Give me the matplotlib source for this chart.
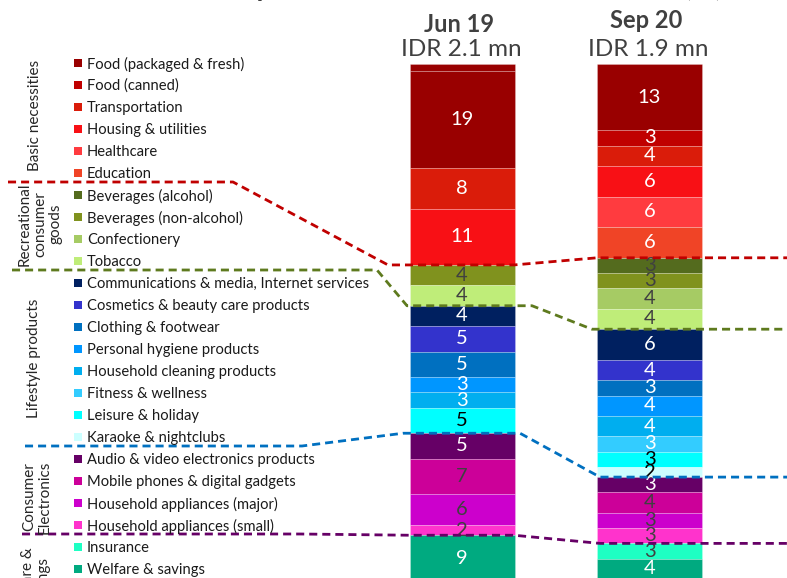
import matplotlib
matplotlib.use("Agg")
import matplotlib.pyplot as plt
from matplotlib.patches import Rectangle

# ---------------- data ----------------
categories = [
    "Food (packaged & fresh)", "Food (canned)", "Transportation", "Housing & utilities",
    "Healthcare", "Education",
    "Beverages (alcohol)", "Beverages (non-alcohol)", "Confectionery", "Tobacco",
    "Communications & media, Internet services", "Cosmetics & beauty care products",
    "Clothing & footwear", "Personal hygiene products", "Household cleaning products",
    "Fitness & wellness", "Leisure & holiday", "Karaoke & nightclubs",
    "Audio & video electronics products", "Mobile phones & digital gadgets",
    "Household appliances (major)", "Household appliances (small)",
    "Insurance", "Welfare & savings",
]
colors = [
    "#990000", "#C00000", "#DA1C0A", "#F81015", "#FF3B3F", "#F04426",
    "#546B1E", "#80921E", "#A6CB64", "#BFED79",
    "#002060", "#3333CC", "#0070C0", "#0096FF", "#00AEEF", "#33CCFF", "#00FFFF", "#CCFFFF",
    "#660066", "#CC0099", "#CC00CC", "#FF33CC",
    "#1EFFC3", "#00AA80",
]
label_colors = [
    "white", "white", "white", "white", "white", "white",
    "#404040", "#404040", "#404040", "#404040",
    "white", "white", "white", "white", "white", "white", "black", "black",
    "white", "#404040", "#404040", "#404040",
    "#404040", "white",
]
jun19 = [19, 0, 8, 11, 0, 0, 0, 4, 0, 4, 4, 5, 5, 3, 3, 0, 5, 0, 5, 7, 6, 2, 0, 9]
sep20 = [13, 3, 4, 6, 6, 6, 3, 3, 4, 4, 6, 4, 3, 4, 4, 3, 3, 2, 3, 4, 3, 3, 3, 4]
jun19_unlabelled_top = 1.4

periods = ["Jun 19", "Sep 20"]
totals = ["IDR 2.1 mn", "IDR 1.9 mn"]

group_names = ["Basic necessities", "Recreational\nconsumer\ngoods", "Lifestyle products",
               "Consumer\nElectronics", "Welfare &\nsavings"]
group_last_index = [5, 9, 17, 21]      # last category of each group (connectors after these)
connector_colors = ["#C00000", "#5E7A1E", "#0070C0", "#660066"]

title = "Monthly household consumer expenditure as share of total income (%)"

# ---------------- figure ----------------
W, H = 787, 578
fig = plt.figure(figsize=(W / 100, H / 100), dpi=100)
FONT = "Lato"
plt.rcParams["font.family"] = [FONT, "DejaVu Sans"]

# main axes: percentages (y from top), bars at x=0,1
ax = fig.add_axes([0, 0, 1, 1])
px_per_pct = 5.1
bar_top_px = 64
ax.set_ylim((H - bar_top_px) / px_per_pct, -bar_top_px / px_per_pct)
unit_x = 187.5
jun_center_px = 462
ax.set_xlim(-jun_center_px / unit_x, (W - jun_center_px) / unit_x)
ax.axis("off")

# overlay axes in pixel space for annotations
ov = fig.add_axes([0, 0, 1, 1])
ov.set_xlim(0, W)
ov.set_ylim(H, 0)
ov.axis("off")
ov.patch.set_alpha(0)


def to_px(x, y):
    p = ax.transData.transform((x, y))
    return ov.transData.inverted().transform(p)


bar_w = 0.56
boundaries = []
for bi, vals in enumerate([jun19, sep20]):
    start = 0.0
    if bi == 0:
        ax.bar(bi, jun19_unlabelled_top, bottom=0, width=bar_w, color=colors[0],
               edgecolor=(1, 1, 1, 0.25), linewidth=0.6)
        start = jun19_unlabelled_top
    cum = start
    ends = []
    for i, v in enumerate(vals):
        if v > 0:
            ax.bar(bi, v, bottom=cum, width=bar_w, color=colors[i],
                   edgecolor=(1, 1, 1, 0.25), linewidth=0.6)
            ax.text(bi, cum + v / 2, f"{v}", ha="center", va="center",
                    fontsize=14.5, color=label_colors[i], family=FONT)
        cum += v
        ends.append(cum)
    boundaries.append(ends)

# headers
for bi in range(2):
    cx, _ = to_px(bi, 0)
    ov.text(cx - 3, 24 if bi == 0 else 21, periods[bi], ha="center", va="center",
            fontsize=17, fontweight="bold", color="#404040", family=FONT)
    ov.text(cx - 1, 49, totals[bi], ha="center", va="center",
            fontsize=17.5, color="#404040", family=FONT)

# title (mostly cropped above the canvas)
ov.text(722, -4, title, ha="right", va="baseline", fontsize=20, fontweight="bold",
        color="#404040", family=FONT, clip_on=False)

# legend
row0, row_h = 63, 22
for i, name in enumerate(categories):
    y = row0 + row_h * i
    ov.add_patch(Rectangle((74, y - 4), 8, 8, color=colors[i], lw=0))
    ov.text(87, y + 1, name, ha="left", va="center", fontsize=10.6, color="#1a1a1a", family=FONT)

# group labels
group_pos = [(35, 115), (40, 224), (34, 358), (37, 497), (36, 582)]
for name, (gx, gy) in zip(group_names, group_pos):
    ov.text(gx, gy, name, rotation=90, ha="center", va="center", fontsize=11,
            color="#262626", family=FONT, linespacing=1.15, multialignment="center")

# connectors
left_start = [8, 12, 25, 22]
knee_x = [233, 377, 302, 300]
arrive_x = [388, 407, 403, 410]
extend_x = [514, 532, 520, 514]
sep_arrive_x = [597, 592, 600, 600]
for k, gi in enumerate(group_last_index):
    y_left = row0 + row_h * (gi + 0.5) - 2
    _, yj = to_px(0, boundaries[0][gi])
    _, ys = to_px(1, boundaries[1][gi])
    xs = [left_start[k], knee_x[k], arrive_x[k], extend_x[k], sep_arrive_x[k], W]
    ys_ = [y_left, y_left, yj, yj, ys, ys]
    ov.plot(xs, ys_, color=connector_colors[k], lw=2.0, dashes=(2.9, 1.8),
            solid_capstyle="butt", dash_capstyle="butt")

fig.savefig("out.png", dpi=100)
